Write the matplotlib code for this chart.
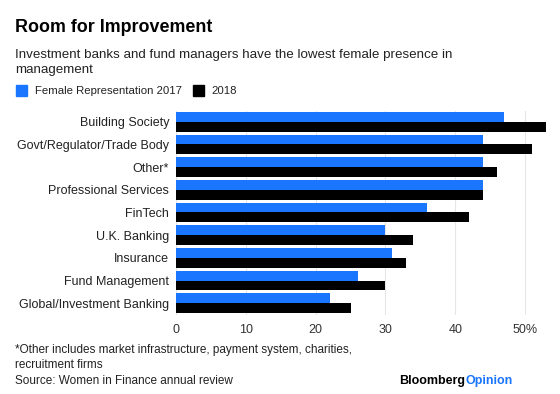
import matplotlib
matplotlib.use("Agg")
import matplotlib.pyplot as plt
from matplotlib.patches import Rectangle

plt.rcParams["font.family"] = ["Liberation Sans", "DejaVu Sans"]

categories = ["Building Society", "Govt/Regulator/Trade Body", "Other*",
              "Professional Services", "FinTech", "U.K. Banking", "Insurance",
              "Fund Management", "Global/Investment Banking"]
rep_2017 = [47, 44, 44, 44, 36, 30, 31, 26, 22]
rep_2018 = [53, 51, 46, 44, 42, 34, 33, 30, 25]
ticks = [0, 10, 20, 30, 40, 50]
tick_labels = ["0", "10", "20", "30", "40", "50%"]

blue = "#1a75ff"
W, H = 560, 394
fig = plt.figure(figsize=(W / 100, H / 100), dpi=100)
ax = fig.add_axes([176 / W, 1 - 314.5 / H, (553 - 176) / W, (314.5 - 110.5) / H])

y = list(range(len(categories)))
h = 0.44
ax.barh([i - h / 2 for i in y], rep_2017, height=h, color=blue, zorder=3)
ax.barh([i + h / 2 for i in y], rep_2018, height=h, color="black", zorder=3)

ax.set_xlim(0, 54)
ax.set_ylim(len(categories) - 0.5, -0.5)
ax.set_yticks(y)
ax.set_yticklabels(categories, fontsize=9, color="#222222")
ax.set_xticks(ticks)
ax.set_xticklabels(tick_labels, fontsize=9, color="#333333")
ax.tick_params(axis="y", length=0, pad=5)
ax.tick_params(axis="x", length=0, pad=7)
ax.grid(axis="x", color="#e6e6e6", linewidth=0.8, zorder=0)
for s in ax.spines.values():
    s.set_visible(False)

def fy(px):
    return 1 - px / H

fig.text(15 / W, fy(28), "Room for Improvement", fontsize=12.9, fontweight="bold",
         va="center", ha="left")
fig.text(15 / W, fy(55), "Investment banks and fund managers have the lowest female presence in",
         fontsize=9.6, va="center", ha="left", color="#222222")
fig.text(15 / W, fy(70.5), "management", fontsize=9.6, va="center", ha="left", color="#222222")

fig.patches.append(Rectangle((16 / W, fy(96)), 11 / W, 11 / H, transform=fig.transFigure,
                             color=blue))
fig.text(35 / W, fy(90.5), "Female Representation 2017", fontsize=8.2, va="center",
         ha="left", color="#222222")
fig.patches.append(Rectangle((193 / W, fy(96)), 11 / W, 11 / H, transform=fig.transFigure,
                             color="black"))
fig.text(211 / W, fy(90.5), "2018", fontsize=8.2, va="center", ha="left", color="#222222")

fig.text(15 / W, fy(350), "*Other includes market infrastructure, payment system, charities,",
         fontsize=8.5, va="center", ha="left", color="#222222")
fig.text(15 / W, fy(365.5), "recruitment firms", fontsize=8.5, va="center", ha="left",
         color="#222222")
fig.text(15 / W, fy(381), "Source: Women in Finance annual review", fontsize=8.5,
         va="center", ha="left", color="#222222")

t = fig.text(399 / W, fy(381), "Bloomberg", fontsize=9, fontweight="heavy", va="center",
             ha="left", color="black")
fig.canvas.draw()
bb = t.get_window_extent()
fig.text(bb.x1 / W, fy(381), "Opinion", fontsize=9, fontweight="heavy", va="center",
         ha="left", color=blue)

fig.savefig("out.png", dpi=100, facecolor="white")
